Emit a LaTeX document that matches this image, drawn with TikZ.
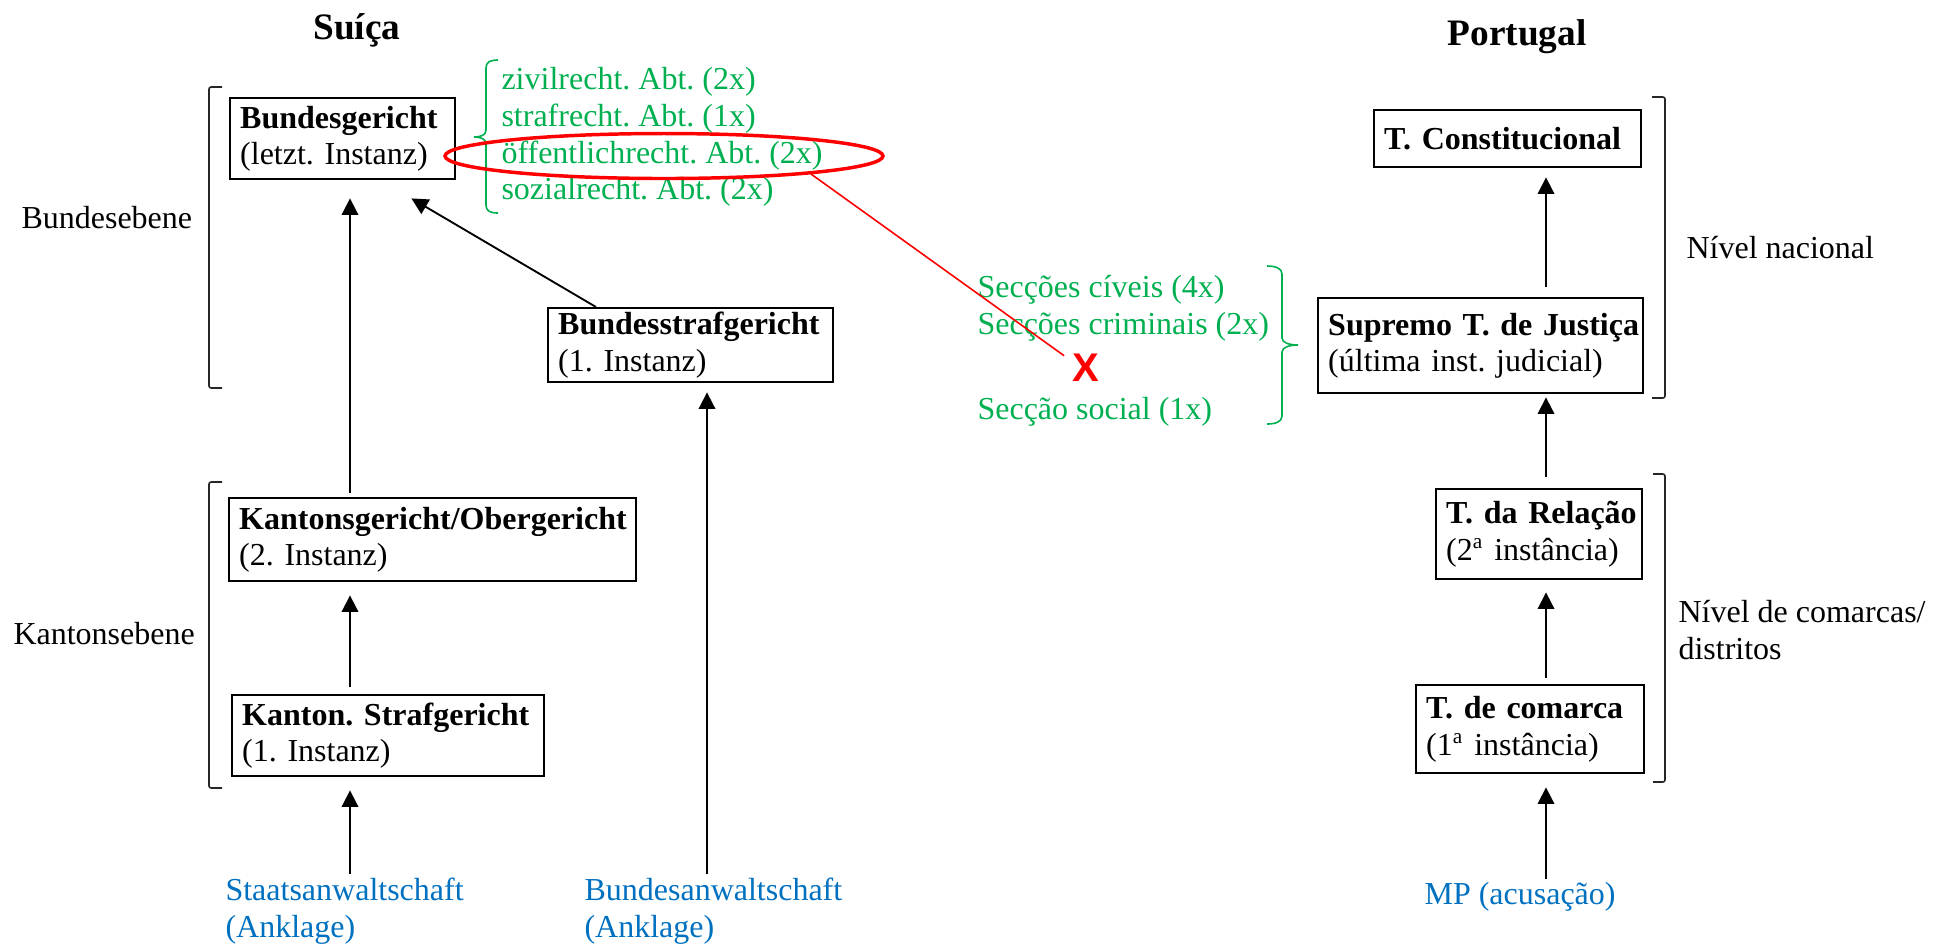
\documentclass[tikz,border=0pt]{standalone}
\usepackage{fontspec}
\setmainfont{Liberation Serif}
\setsansfont{Liberation Sans}
\usetikzlibrary{arrows.meta,shapes.geometric}

% one drawing unit = one pixel of the layout grid
\newdimen\pxu \pxu=0.375pt
\definecolor{divgreen}{RGB}{0,176,80}
\definecolor{prosblue}{RGB}{0,112,192}
\hyphenpenalty=10000
\frenchspacing

\newcommand\courttext[2]{\textbf{\mbox{#1}}\\\mbox{#2}}

\tikzset{
  x=0.375pt, y=-0.375pt,
  txt/.style={font=\fontsize{12}{13.8}\selectfont},
  court/.style={txt, draw, line width=0.9pt, anchor=north west, align=left,
    inner xsep=10\pxu, inner ysep=0pt},
  plain/.style={txt, inner sep=0pt, align=left, anchor=west},
  title/.style={font=\fontsize{14}{16}\selectfont\bfseries, inner sep=0pt},
  arr/.style={line width=0.7pt, -{Triangle[length=6.2pt,width=6.2pt]}},
  lvlbracket/.style={line width=0.6pt, black!85, rounded corners=0.8pt},
  gbrace/.style={line width=0.6pt, divgreen},
}

\begin{document}
\begin{tikzpicture}
\useasboundingbox (0,0) rectangle (1948,949);

% ---------------- Switzerland ----------------
\node[title] (ch) at (357,30) {Suíça};

\node[court, text width=205\pxu, minimum height=81\pxu] (bg) at (229,97)
  {\courttext{Bundesgericht}{(letzt. Instanz)}};
\node[court, text width=265\pxu, minimum height=74\pxu] (bsg) at (547,307)
  {\courttext{Bundesstrafgericht}{(1. Instanz)}};
\node[court, text width=387\pxu, minimum height=83\pxu] (kg) at (228,497)
  {\courttext{Kantonsgericht/Obergericht}{(2. Instanz)}};
\node[court, text width=292\pxu, minimum height=81\pxu] (ksg) at (231,694)
  {\courttext{Kanton. Strafgericht}{(1. Instanz)}};

\node[plain] (fedlvl) at (21,218) {Bundesebene};
\node[plain] (cantlvl) at (13,634) {Kantonsebene};

\draw[lvlbracket] (222,87) -- (209,87) -- (209,388) -- (222,388);
\draw[lvlbracket] (222,482) -- (209,482) -- (209,788) -- (222,788);

% divisions of the federal court
\node[plain, text=divgreen] (abt) at (501,137)
  {zivilrecht. Abt. (2x)\\strafrecht. Abt. (1x)\\öffentlichrecht. Abt. (2x)\\sozialrecht. Abt. (2x)};
\draw[gbrace] (498,60) .. controls (490,60) and (486,62) .. (486,68) -- (486,130)
  .. controls (486,135) and (481,137) .. (474,137)
  .. controls (481,137) and (486,139) .. (486,144) -- (486,205)
  .. controls (486,211) and (490,213) .. (498,213);
\node[ellipse, draw=red, line width=1.3pt, minimum width=438\pxu, minimum height=45\pxu,
  inner sep=0pt] (oeff) at (664,156) {};

\node[plain, text=prosblue] (staats) at (225,911) {Staatsanwaltschaft\\(Anklage)};
\node[plain, text=prosblue] (bund) at (584,911) {Bundesanwaltschaft\\(Anklage)};

\coordinate (swissaxis) at (350,0);
\coordinate (fedaxis) at (707,0);

\draw[arr, shorten <=4\pxu, shorten >=18\pxu] (kg.north -| swissaxis) -- (bg.south -| swissaxis);
\draw[arr, shorten <=7\pxu, shorten >=13\pxu] (ksg.north -| swissaxis) -- (kg.south -| swissaxis);
\draw[arr, shorten <=3\pxu, shorten >=13\pxu] (staats.north -| swissaxis) -- (ksg.south -| swissaxis);
\draw[arr] ([xshift=49\pxu]bsg.north west) -- ([shift={(-45,18)}]bg.south east);
\draw[arr, shorten <=3\pxu, shorten >=9\pxu] (bund.north -| fedaxis) -- (bsg.south -| fedaxis);

% ---------------- Portugal ----------------
\node[title] (pt) at (1517,37) {Portugal};

\node[court, text width=247\pxu, minimum height=57\pxu] (tc) at (1373,109)
  {\textbf{\mbox{T. Constitucional}}};
\node[court, text width=305\pxu, minimum height=95\pxu] (stj) at (1317,297)
  {\courttext{Supremo T. de Justiça}{(última inst. judicial)}};
\node[court, text width=186\pxu, minimum height=90\pxu] (rel) at (1435,488)
  {\courttext{T. da Relação}{(2\textsuperscript{a} instância)}};
\node[court, text width=208\pxu, minimum height=88\pxu] (com) at (1415,684)
  {\courttext{T. de comarca}{(1\textsuperscript{a} instância)}};

\node[plain] (natlvl) at (1686,248) {Nível nacional};
\node[plain] (distlvl) at (1678,630) {Nível de comarcas/\\distritos};

\draw[lvlbracket] (1652,97) -- (1665,97) -- (1665,398) -- (1652,398);
\draw[lvlbracket] (1653,474) -- (1665,474) -- (1665,782) -- (1653,782);

% sections of the supreme court
\node[plain, text=divgreen] (sec) at (977,351)
  {Secções cíveis (4x)\\Secções criminais (2x)\\[18pt]Secção social (1x)};
\draw[gbrace] (1267,266) .. controls (1275,266) and (1282,268) .. (1282,274) -- (1282,338)
  .. controls (1282,343) and (1290,345) .. (1298,345)
  .. controls (1290,345) and (1282,347) .. (1282,352) -- (1282,416)
  .. controls (1282,422) and (1275,424) .. (1267,424);

\node[plain, text=prosblue] (mp) at (1424,897) {MP (acusação)};

\coordinate (ptaxis) at (1546,0);
\draw[arr, shorten <=10\pxu, shorten >=9\pxu] (stj.north -| ptaxis) -- (tc.south -| ptaxis);
\draw[arr, shorten <=11\pxu, shorten >=3\pxu] (rel.north -| ptaxis) -- (stj.south -| ptaxis);
\draw[arr, shorten <=6\pxu, shorten >=12\pxu] (com.north -| ptaxis) -- (rel.south -| ptaxis);
\draw[arr, shorten <=3\pxu, shorten >=13\pxu] (mp.north -| ptaxis) -- (com.south -| ptaxis);

% no public-law division in the Portuguese supreme court
\node[text=red, font=\fontsize{15}{15}\sffamily\bfseries, inner sep=0pt] (xmark) at (1086,368) {X};
\draw[red, line width=0.6pt] (oeff.-7) -- ([shift={(-8,2)}]xmark.north west);

\end{tikzpicture}
\end{document}
